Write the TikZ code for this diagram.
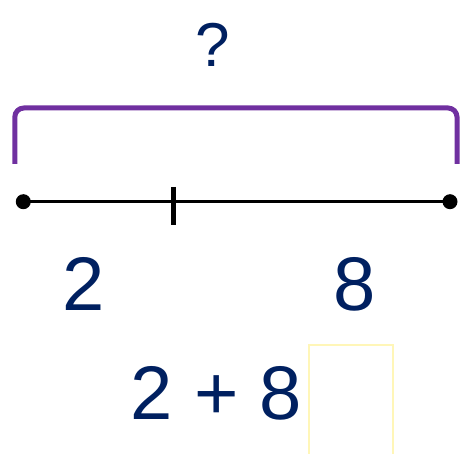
\documentclass[tikz,border=0pt]{standalone}
\usepackage{fontspec}
\setmainfont{Liberation Sans}
\definecolor{navy}{HTML}{002060}
\definecolor{brpurple}{HTML}{7030A0}
\definecolor{boxyellow}{HTML}{FFF6B8}
\begin{document}
\begin{tikzpicture}[x=1pt,y=-1pt,
  numtext/.style={text=navy,font=\fontsize{76}{80}\selectfont,inner sep=0pt},
  dotnode/.style={circle,fill=black,inner sep=0pt,minimum size=15pt}]
\useasboundingbox (0,0) rectangle (461,454);
% question mark
\node[text=navy,font=\fontsize{62}{66}\selectfont,inner sep=0pt] (q) at (212.5,44.5) {?};
% bracket
\coordinate (bl) at (14.8,164);
\coordinate (br) at (457,164);
\draw[brpurple,line width=5pt,rounded corners=9pt] (bl) -- (14.8,108) -- (457,108) -- (br);
% number line
\node[dotnode] (a) at (23.3,201.7) {};
\node[dotnode] (b) at (450,201.7) {};
\draw[black,line width=3.5pt] (a.center) -- (b.center);
\coordinate (t1) at (173.7,187);
\coordinate (t2) at (173.7,225);
\draw[black,line width=5pt] (t1) -- (t2);
% labels
\node[numtext] (two) at (83.5,284) {2};
\node[numtext] (eight) at (354.5,284) {8};
\node[numtext] (eq) at (216.5,393) {2 + 8};
% answer box
\draw[boxyellow,line width=2pt] (309,460) -- (309,345) -- (393,345) -- (393,460);
\end{tikzpicture}
\end{document}
